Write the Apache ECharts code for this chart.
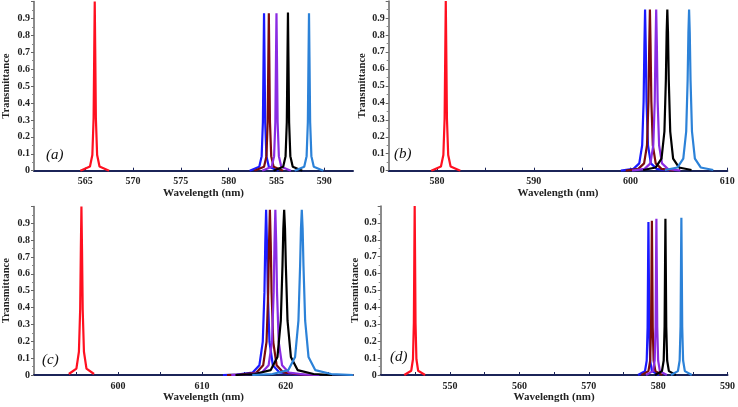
<!DOCTYPE html>
<html>
<head>
<meta charset="utf-8">
<script src="https://cdn.jsdelivr.net/npm/echarts@6/dist/echarts.min.js"></script>
<style>html,body{margin:0;padding:0;background:#fff}#c{width:738px;height:407px}</style>
</head>
<body>
<div id="c"></div>
<script>
// ---- Panel (a) ----
const aRed = [[564.5,0],[565.5,0.025],[565.75,0.093],[565.88,0.308],[565.95,0.719],[566,1.0],[566.05,0.719],[566.12,0.308],[566.25,0.093],[566.5,0.025],[567.5,0]];
const aBlue = [[582.2,0],[583.2,0.023],[583.45,0.086],[583.58,0.286],[583.65,0.669],[583.7,0.93],[583.75,0.669],[583.82,0.286],[583.95,0.086],[584.2,0.023],[585.2,0]];
const aMaroon = [[582.7,0],[583.7,0.023],[583.95,0.086],[584.08,0.286],[584.15,0.669],[584.2,0.93],[584.25,0.669],[584.32,0.286],[584.45,0.086],[584.7,0.023],[585.7,0]];
const aPurple = [[583.5,0],[584.5,0.023],[584.75,0.086],[584.88,0.286],[584.95,0.669],[585,0.93],[585.05,0.669],[585.12,0.286],[585.25,0.086],[585.5,0.023],[586.5,0]];
const aBlack = [[584.7,0],[585.7,0.023],[585.95,0.086],[586.08,0.286],[586.15,0.669],[586.2,0.935],[586.25,0.669],[586.32,0.286],[586.45,0.086],[586.7,0.023],[587.7,0]];
const aLight = [[586.9,0],[587.9,0.023],[588.15,0.086],[588.28,0.286],[588.35,0.669],[588.4,0.93],[588.45,0.669],[588.52,0.286],[588.65,0.086],[588.9,0.023],[589.9,0]];
const aTicks = [565,570,575,580,585,590];

// ---- Panel (b) ----
const bRed = [[579.4,0],[580.4,0.025],[580.65,0.093],[580.78,0.308],[580.85,0.719],[580.9,1.0],[580.95,0.719],[581.02,0.308],[581.15,0.093],[581.4,0.025],[582.4,0]];
const bBlue = [[599,0],[600.3,0.011],[600.9,0.043],[601.2,0.15],[601.35,0.408],[601.43,0.736],[601.5,0.95],[601.57,0.736],[601.65,0.408],[601.8,0.15],[602.1,0.043],[602.7,0.011],[604,0]];
const bMaroon = [[599.5,0],[600.8,0.011],[601.4,0.043],[601.7,0.15],[601.85,0.408],[601.93,0.736],[602,0.95],[602.07,0.736],[602.15,0.408],[602.3,0.15],[602.6,0.043],[603.2,0.011],[604.5,0]];
const bPurple = [[600.15,0],[601.45,0.011],[602.05,0.043],[602.35,0.15],[602.5,0.408],[602.58,0.736],[602.65,0.95],[602.72,0.736],[602.8,0.408],[602.95,0.15],[603.25,0.043],[603.85,0.011],[605.15,0]];
const bBlack = [[601.3,0.004],[602.6,0.019],[603.2,0.071],[603.5,0.231],[603.65,0.534],[603.73,0.812],[603.8,0.95],[603.87,0.812],[603.95,0.534],[604.1,0.231],[604.4,0.071],[605,0.019],[606.3,0.004]];
const bLight = [[603.55,0.004],[604.85,0.019],[605.45,0.071],[605.75,0.231],[605.9,0.534],[605.98,0.812],[606.05,0.95],[606.12,0.812],[606.2,0.534],[606.35,0.231],[606.65,0.071],[607.25,0.019],[608.55,0.004]];
const bTicks = [580,590,600,610];
const bMinor = [585,595,605];

// ---- Panel (c) ----
const cRed = [[594.15,0.006],[595.05,0.038],[595.35,0.138],[595.5,0.39],[595.58,0.746],[595.65,1.0],[595.72,0.746],[595.8,0.39],[595.95,0.138],[596.25,0.038],[597.15,0.006]];
const cBlue = [[612.5,0],[614.15,0.003],[616.05,0.015],[616.85,0.058],[617.25,0.196],[617.45,0.49],[617.55,0.784],[617.65,0.98],[617.75,0.784],[617.85,0.49],[618.05,0.196],[618.45,0.058],[619.25,0.015],[621.15,0.003],[623,0]];
const cMaroon = [[613,0],[614.6,0.003],[616.5,0.015],[617.3,0.058],[617.7,0.196],[617.9,0.49],[618,0.784],[618.1,0.98],[618.2,0.784],[618.3,0.49],[618.5,0.196],[618.9,0.058],[619.7,0.015],[621.6,0.003],[623.5,0]];
const cPurple = [[613.5,0],[615.25,0.003],[617.15,0.015],[617.95,0.058],[618.35,0.196],[618.55,0.49],[618.65,0.784],[618.75,0.98],[618.85,0.784],[618.95,0.49],[619.15,0.196],[619.55,0.058],[620.35,0.015],[622.25,0.003],[624,0]];
const cBlack = [[614,0],[616.3,0.006],[618.2,0.029],[619,0.107],[619.4,0.322],[619.6,0.649],[619.7,0.869],[619.8,0.98],[619.9,0.869],[620,0.649],[620.2,0.322],[620.6,0.107],[621.4,0.029],[623.3,0.006],[625.5,0]];
const cLight = [[616,0],[618.4,0.006],[620.3,0.029],[621.1,0.107],[621.5,0.322],[621.7,0.649],[621.8,0.869],[621.9,0.98],[622,0.869],[622.1,0.649],[622.3,0.322],[622.7,0.107],[623.5,0.029],[625.4,0.006],[628,0]];
const cTicks = [600,610,620];
const cMinor = [595,605,615,625];

// ---- Panel (d) ----
const dRed = [[543.4,0],[544.4,0.025],[544.65,0.093],[544.78,0.308],[544.85,0.719],[544.9,1.0],[544.95,0.719],[545.02,0.308],[545.15,0.093],[545.4,0.025],[546.4,0]];
const dBlue = [[577.1,0],[578.1,0.023],[578.35,0.084],[578.48,0.279],[578.55,0.651],[578.6,0.905],[578.65,0.651],[578.72,0.279],[578.85,0.084],[579.1,0.023],[580.1,0]];
const dMaroon = [[577.6,0],[578.6,0.023],[578.85,0.085],[578.98,0.281],[579.05,0.656],[579.1,0.913],[579.15,0.656],[579.22,0.281],[579.35,0.085],[579.6,0.023],[580.6,0]];
const dPurple = [[578.25,0],[579.25,0.023],[579.5,0.086],[579.63,0.285],[579.7,0.665],[579.75,0.925],[579.8,0.665],[579.87,0.285],[580,0.086],[580.25,0.023],[581.25,0]];
const dBlack = [[579.55,0],[580.55,0.023],[580.8,0.086],[580.93,0.285],[581,0.665],[581.05,0.925],[581.1,0.665],[581.17,0.285],[581.3,0.086],[581.55,0.023],[582.55,0]];
const dLight = [[581.85,0],[582.85,0.023],[583.1,0.086],[583.23,0.286],[583.3,0.669],[583.35,0.93],[583.4,0.669],[583.47,0.286],[583.6,0.086],[583.85,0.023],[584.85,0]];
const dTicks = [550,560,570,580,590];
const dMinor = [545,555,565,575,585];

const yLabel = 'Transmittance';
const xLabel = 'Wavelength (nm)';
const panelLabels = ['(a)','(b)','(c)','(d)'];

const colors = ['#ff1020','#1a1aff','#7a0c0c','#8a2be2','#000000','#2c82d8'];
const FONT = 'Liberation Serif';

const panels = [
  {grid:{left:31,top:1.5,width:322,height:169.2}, min:559.65, max:593, ticks:aTicks, minor:[], series:[aRed,aBlue,aMaroon,aPurple,aBlack,aLight], nameShift:20, yGap:22},
  {grid:{left:388.7,top:1,width:338.6,height:169.7}, min:575, max:610, ticks:bTicks, minor:bMinor, series:[bRed,bBlue,bMaroon,bPurple,bBlack,bLight], nameShift:0, yGap:21},
  {grid:{left:31,top:206.4,width:322,height:168.6}, min:590, max:628, ticks:cTicks, minor:cMinor, series:[cRed,cBlue,cMaroon,cPurple,cBlack,cLight], nameShift:20, yGap:22},
  {grid:{left:380.7,top:206,width:349.3,height:169}, min:540, max:590, ticks:dTicks, minor:dMinor, series:[dRed,dBlue,dMaroon,dPurple,dBlack,dLight], nameShift:0, yGap:16}
];

const grid = [], xAxis = [], yAxis = [], series = [];
panels.forEach((p, i) => {
  grid.push(p.grid);
  xAxis.push({
    type:'value', gridIndex:i, min:p.min, max:p.max,
    name:xLabel, nameLocation:'middle', nameGap:17,
    nameTextStyle:{fontFamily:FONT, fontWeight:'bold', fontSize:11, color:'#222', padding:[0,0,0,p.nameShift]},
    axisLine:{show:true, onZero:false, lineStyle:{color:'#1b2458', width:2}},
    axisTick:{show:true, inside:true, length:3, customValues:p.ticks.concat(p.minor), lineStyle:{color:'#1b2458'}},
    axisLabel:{customValues:p.ticks, margin:6, fontFamily:FONT, fontWeight:'bold', fontSize:10, color:'#222'},
    splitLine:{show:false}
  });
  yAxis.push({
    type:'value', gridIndex:i, min:0, max:1, interval:0.1,
    name:yLabel, nameLocation:'middle', nameGap:p.yGap,
    nameTextStyle:{fontFamily:FONT, fontWeight:'bold', fontSize:10.5, color:'#222'},
    axisLine:{show:true, lineStyle:{color:'#666', width:1.5}},
    axisTick:{show:true, length:3, lineStyle:{color:'#666'}},
    minorTick:{show:true, splitNumber:2, length:2, lineStyle:{color:'#888'}},
    axisLabel:{showMaxLabel:false, margin:4, fontFamily:FONT, fontWeight:'bold', fontSize:10, color:'#222'},
    splitLine:{show:false}
  });
  p.series.forEach((d, k) => {
    series.push({
      type:'line', xAxisIndex:i, yAxisIndex:i, data:d, showSymbol:false,
      lineStyle:{color:colors[k], width:2.2}, itemStyle:{color:colors[k]},
      z:2+k, animation:false
    });
  });
});

const labelPos = [[46,148],[394,147],[42,353],[390,350]];
const chart = echarts.init(document.getElementById('c'));
chart.setOption({
  animation:false,
  grid, xAxis, yAxis, series,
  graphic: panelLabels.map((t, i) => ({
    type:'text', left:labelPos[i][0], top:labelPos[i][1],
    style:{text:t, font:'italic 15px "Liberation Serif"', fill:'#111'}
  }))
});
</script>
</body>
</html>
